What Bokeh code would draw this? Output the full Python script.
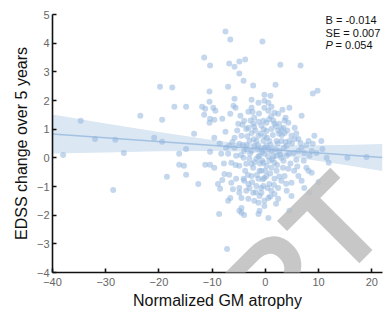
from bokeh.plotting import figure
from bokeh.models import Range1d, Label, FixedTicker
from bokeh.embed import file_html
from bokeh.resources import INLINE

# ---- data ----
gm_atrophy = [
    -38.0, -34.7, -32.0, -28.6, -28.2, -26.6, -23.5, -20.9, -19.8, -19.4, -19.4, -18.5,
    -17.5, -17.1, -16.2, -16.2, -15.3, -14.9, -14.9, -14.9, -13.4, -12.6, -11.5, -11.9,
    -11.3, -11.5, -11.3, -10.5, -10.5, -10.4, -10.4, -10.5, -10.4, -10.4, -9.8, -9.4,
    -9.6, -9.6, -9.6, -8.9, -8.7, -8.5, -8.3, -8.1, -8.1, -7.7, -7.5, -7.5, -7.2, -7.0,
    -7.0, -7.0, -6.8, -6.8, -6.8, -6.6, -6.6, -6.6, -6.4, -6.4, -5.8, -5.8, -6.0, -5.6,
    -5.8, -5.8, -5.5, -5.5, -4.9, -4.9, -4.7, -5.1, -4.9, -4.9, -4.9, -4.9, -4.9, -4.5,
    -4.5, -4.5, -4.5, -4.3, -4.1, -4.1, -4.1, -4.0, -4.0, -4.0, -3.8, -3.6, -3.6, -3.6,
    -3.6, -3.2, -3.2, -3.2, -3.2, -3.0, -2.6, -2.6, -2.6, -2.6, -2.3, -2.3, -2.3, -2.3,
    -2.1, -2.1, -2.1, -2.1, -1.7, -1.7, -1.3, -1.3, -1.3, -1.3, -1.3, -1.3, -1.1, -1.1,
    -1.1, -0.75, -0.75, -0.75, -0.56, -0.38, -0.38, -0.38, -0.19, -0.19, -0.19, -0.19,
    -0.19, -0.19, -0.19, 0.19, 0.56, 0.56, 0.56, 0.56, 0.94, 1.13, 1.13, 1.13, 1.5, 1.7,
    1.7, 1.7, 1.7, 1.9, 2.4, 2.4, 2.4, 2.6, 2.8, 3.0, 3.0, 3.0, 3.2, 3.4, 3.6, 3.6, 3.8,
    4.3, 4.3, 4.5, 4.5, 4.9, 4.9, 4.9, 5.3, 5.5, 5.5, 5.8, 6.2, 6.2, 6.2, 6.6, 6.6, 6.8,
    6.8, 6.8, 7.2, 7.3, 7.3, 7.7, 7.7, 8.1, 8.1, 8.3, 8.3, 8.7, 8.7, 8.9, 8.9, 9.2, 9.6,
    9.8, 10.0, 10.5, 10.7, 11.5, 11.9, 15.4, 19.0,
    0.19, 0.75, 1.13, 0.19, 2.1, 2.6, 4.0, 0.75, 2.1, 0.19, 0.75, -1.7, -2.6, -3.0, -4.0,
    -1.1, 0.19, 3.4, 4.0, 2.6, 1.13, -0.75, -2.6, 4.0, 1.7, 3.0, 4.5, 2.1, -0.38, -1.5,
    -4.6, -4.2, -3.8, -3.4, -3.3, -2.9, -2.8, -2.5, -2.2, -2.0, -1.9, -1.6, -1.4, -1.2,
    -1.0, -0.9, -0.6, -0.5, -0.3, -0.1, 0.0, 0.3, 0.4, 0.5, 0.7, 0.9, 1.0, 1.3, 1.4, 1.6,
    1.8, 2.0, 2.2, 2.3, 2.6, 2.8, 3.1, 3.3, 3.5, 3.9, 4.1, 4.4, 4.7, 5.0, 5.4, 5.8, 6.0,
    -5.3, -5.6, -6.2, -6.1, -7.4, -7.8, -8.6, -3.0, -1.8, 0.9, 2.0, -0.8, 3.6, 1.1, -2.4,
    -0.2, 0.6, -1.3, 1.5, -3.5, 2.4, 3.8, -0.6,
]
edss_change = [
    0.10, 1.29, 0.66, -1.12, 0.63, 0.17, 1.47, 0.70, 2.48, 1.33, 0.56, -0.66,
    2.45, 1.78, 0.14, -0.24, -0.28, 1.78, 0.31, -0.59, 0.84, -0.91, 3.50, 1.78,
    1.71, 1.50, -0.24, 2.31, 1.96, 3.22, 1.36, 1.22, 0.21, -0.24, 1.75, 1.64,
    1.33, 0.70, -0.35, -0.91, -1.96, -1.08, 0.14, 1.36, -0.77, -0.56, 4.41, 0.91, -3.18, 2.48,
    0.14, -1.50, 3.29, 0.42, -0.59, 4.13, 1.54, -1.40, -0.17, -0.87, 3.18, 2.06, 1.82, 1.75,
    0.70, 0.35, 0.07, -0.73, 3.36, 2.94, 1.47, 1.19, 0.49, -0.28, -1.05, -1.22, -1.85, 0.77,
    -1.40, -1.75, -1.92, 1.15, 2.69, 0.00, -0.73, 1.29, -1.99, -0.80, 3.43, 1.01, 0.31, -0.21,
    -1.15, 1.61, 1.05, -0.91, -1.43, -0.03, 2.03, 1.75, 0.87, -0.63, 2.52, 1.19, -0.35, -1.22,
    1.40, 1.08, 0.42, -1.50, -0.03, -0.98, 1.92, 1.26, 0.77, -0.73, -1.57, -1.96, -0.45, -1.33,
    -1.85, 1.12, 0.31, -1.22, 4.06, 1.29, -0.17, -0.98, 2.20, 1.75, 0.14, -0.70,
    -1.50, -1.68, 1.99, 1.22, 1.92, 1.64, -1.40, -2.10, 2.17, 1.78, -0.35, -1.15, 1.29, 1.57,
    1.19, -0.17, -1.26, 2.55, 1.54, -1.05, -1.43, 1.19, 3.25, 1.01, 0.00, -0.80, 1.68, 1.05, 0.87, -0.63, 1.40,
    1.22, -0.38, 1.75, -1.85, 0.77, -0.87, -1.33, 0.17, 1.05, 0.66, -0.07, 0.66, 0.24, -0.63, 3.22, 0.52, 1.47,
    0.35, -0.80, -0.10, 0.17, -1.05, 0.45, -0.35, 0.59, -0.45, 0.07, -1.22, 0.24, -0.52, 2.24, 0.49, 0.77, 0.17,
    2.34, -0.84, 0.59, 0.31, 0.00, -0.17, 0.00, 0.03,
    0.94, 0.59, 0.24, 0.42, 0.59, 0.24, 0.42, -0.10, -0.45, -0.63, -0.91, 0.59, 0.24, 0.59, 0.24,
    0.07, -0.28, -0.10, 0.07, 0.84, 1.01, -0.45, -0.21, -1.15, -0.73, 0.59, 0.59, 0.07, 0.59, 0.31,
    0.10, 0.45, -0.45, 0.75, -0.60, 0.15, 1.30, -0.85, 0.65, -0.15, 0.95, -0.60, 0.45, 1.55,
    -0.20, 0.85, 0.20, -0.75, 1.00, 0.35, -0.45, 0.70, -1.05, 0.05, 1.35, -0.55, 0.45, -0.05, 0.80, -0.95,
    0.30, 1.10, -0.25, 0.50, -0.65, 0.10, 0.80, -0.35, 0.35, -0.90, 0.95, 0.15, -0.20, 0.50, -0.45, 0.85, -0.30,
    0.95, -0.25, 0.55, -1.10, 0.35, -0.20, 0.50, -1.05, -1.20, -1.35, -1.60, -1.05, 1.30, 1.45, 1.60,
    0.75, 0.30, 0.05, 0.05, 0.45, 0.95, 0.55, -0.10,
]

fit_x = [-40, 22]
fit_y = [0.83, 0.01]

band_x = [-40, -30, -20, -10, -5, 0, 5, 10, 15, 22]
band_upper = [1.51, 1.20, 0.90, 0.62, 0.51, 0.45, 0.44, 0.44, 0.45, 0.48]
band_lower = [0.15, 0.19, 0.23, 0.24, 0.22, 0.15, 0.03, -0.11, -0.25, -0.46]

x_ticks = [-40, -30, -20, -10, 0, 10, 20]
y_ticks = [-4, -3, -2, -1, 0, 1, 2, 3, 4, 5]

stats_lines = ["B = -0.014", "SE = 0.007"]
p_label = "P"
p_value = "= 0.054"
watermark = "PT"

FONT = "Liberation Sans"

p = figure(width=385, height=320, output_backend="svg", toolbar_location=None,
           x_range=Range1d(-40, 22), y_range=Range1d(-4, 5),
           min_border_left=52, min_border_right=3, min_border_top=14, min_border_bottom=48)
p.outline_line_color = None
p.grid.grid_line_color = None
p.background_fill_color = "white"
p.border_fill_color = "white"

for ax in (p.xaxis[0], p.yaxis[0]):
    ax.axis_line_color = "#111111"
    ax.axis_line_width = 1.6
    ax.major_tick_line_color = "#111111"
    ax.major_tick_line_width = 1.6
    ax.major_tick_in = 4
    ax.major_tick_out = 0
    ax.minor_tick_line_color = None
    ax.major_label_text_font = FONT
    ax.major_label_text_font_size = "11px"
    ax.major_label_text_color = "#666666"
    ax.axis_label_text_font = FONT
    ax.axis_label_text_font_size = "16px"
    ax.axis_label_text_font_style = "normal"
    ax.axis_label_text_color = "#111111"

p.xaxis.ticker = FixedTicker(ticks=x_ticks)
p.yaxis.ticker = FixedTicker(ticks=y_ticks)
p.xaxis.axis_label = "Normalized GM atrophy"
p.yaxis.axis_label = "EDSS change over 5 years"
p.xaxis.major_label_standoff = 5
p.yaxis.major_label_standoff = 3
p.xaxis.axis_label_standoff = 3
p.yaxis.axis_label_standoff = 4

p.varea(x=band_x, y1=band_lower, y2=band_upper, fill_color="#dbe7f3", fill_alpha=1.0)
p.line(fit_x, fit_y, line_color="#a3c2e1", line_width=1.6)
p.scatter(gm_atrophy, edss_change, size=6, fill_color="#93b7de", fill_alpha=0.55,
          line_color=None)

ys = [5.03, 4.58]
for txt, yy in zip(stats_lines, ys):
    p.add_layout(Label(x=11.3, y=yy, text=txt, text_font=FONT, text_font_size="11px",
                       text_baseline="top", text_color="#111111"))
p.add_layout(Label(x=11.3, y=4.13, text=p_label, text_font=FONT, text_font_size="11px",
                   text_font_style="italic", text_baseline="top", text_color="#111111"))
p.add_layout(Label(x=11.3, y=4.13, x_offset=10, text=p_value, text_font=FONT,
                   text_font_size="11px", text_baseline="top", text_color="#111111"))

# faint diagonal watermark letters
p.add_layout(Label(x=-3.58, y=-5.42, text=watermark, text_font=FONT, text_font_size="128px",
                   text_font_style="bold", text_color="#bdbdbd", text_alpha=0.85,
                   angle=45, angle_units="deg", text_baseline="alphabetic"))

open("out.html", "w").write(file_html(p, INLINE))
